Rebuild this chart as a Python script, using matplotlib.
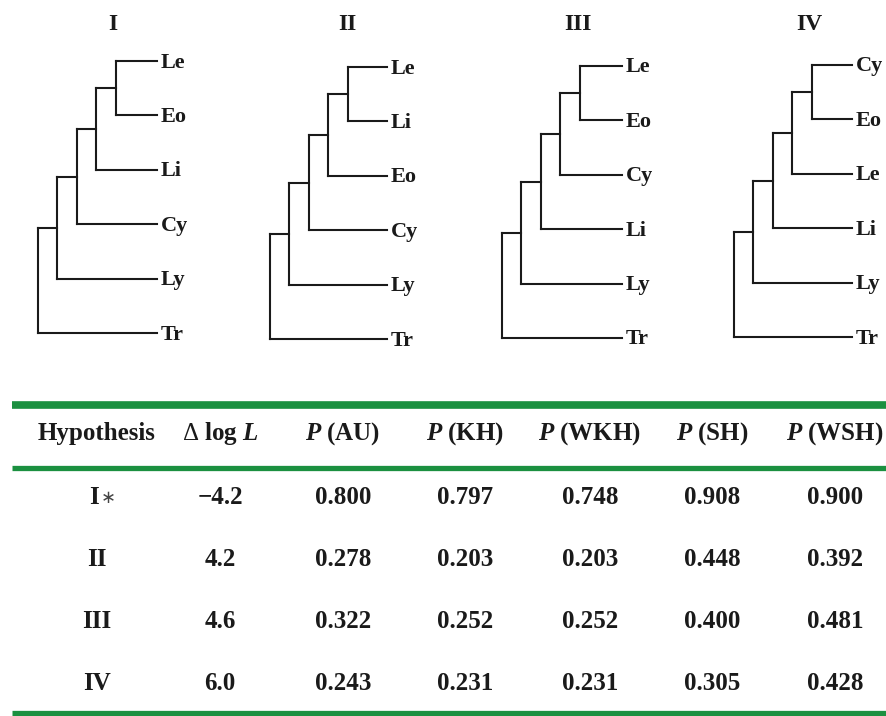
"""Tree hypotheses with AU test table"""
import matplotlib
matplotlib.use("Agg")
import matplotlib.pyplot as plt
import numpy as np

# ---- data ----
tree_names = ['I', 'II', 'III', 'IV']
topologies = [
    ((((('Le', 'Eo'), 'Li'), 'Cy'), 'Ly'), 'Tr'),
    ((((('Le', 'Li'), 'Eo'), 'Cy'), 'Ly'), 'Tr'),
    ((((('Le', 'Eo'), 'Cy'), 'Li'), 'Ly'), 'Tr'),
    ((((('Cy', 'Eo'), 'Le'), 'Li'), 'Ly'), 'Tr'),
]

col_headers = ['Hypothesis', r'$\mathsf{\Delta}$ log $L$', r'$P$ (AU)', r'$P$ (KH)',
               r'$P$ (WKH)', r'$P$ (SH)', r'$P$ (WSH)']
row_labels = ['I\u2217', 'II', 'III', 'IV']
delta_logL = ['\u22124.2', '4.2', '4.6', '6.0']
p_au = ['0.800', '0.278', '0.322', '0.243']
p_kh = ['0.797', '0.203', '0.252', '0.231']
p_wkh = ['0.748', '0.203', '0.252', '0.231']
p_sh = ['0.908', '0.448', '0.400', '0.305']
p_wsh = ['0.900', '0.392', '0.481', '0.428']

# ---- layout (pixels) ----
tree_root_x = [38, 270, 502, 734]
tree_top_y = [61, 67, 66, 65]
tree_tip_x = [157, 387, 622, 852]
title_x = [113, 347, 578, 809]
tip_gap = 54.4
node_step = 19.5

col_x = [97, 220, 343, 465, 590, 712, 835]
header_y = 440
row_y = [504, 566, 628, 690]
green = '#1b9040'
ink = '#1a1a1a'

plt.rcParams['font.family'] = ['Liberation Serif', 'DejaVu Serif']
plt.rcParams['font.weight'] = 'bold'
plt.rcParams['mathtext.fontset'] = 'custom'
plt.rcParams['mathtext.rm'] = 'Liberation Serif:bold'
plt.rcParams['mathtext.it'] = 'Liberation Serif:italic:bold'
plt.rcParams['mathtext.bf'] = 'Liberation Serif:bold'
plt.rcParams['mathtext.sf'] = 'Liberation Serif:weight=normal'


def flatten(clade):
    if isinstance(clade, str):
        return [clade]
    out = []
    for c in clade:
        out += flatten(c)
    return out


def draw_clade(ax, clade, depth, root_x, tip_x, tip_y):
    node_x = root_x + depth * node_step
    if isinstance(clade, str):
        return tip_y[clade], tip_x
    kids = [draw_clade(ax, c, depth + 1, root_x, tip_x, tip_y) for c in clade]
    ys = [k[0] for k in kids]
    ax.plot([node_x, node_x], [min(ys), max(ys)], color=ink, lw=1.5,
            solid_capstyle='projecting')
    for ky, kx in kids:
        ax.plot([node_x, kx], [ky, ky], color=ink, lw=1.5,
                solid_capstyle='projecting')
    return float(np.mean(ys)), node_x


def main():
    fig = plt.figure(figsize=(8.87, 7.16), dpi=100)
    ax = fig.add_axes([0, 0, 1, 1])
    ax.set_xlim(0, 887)
    ax.set_ylim(716, 0)
    ax.axis('off')

    # trees
    for i, topo in enumerate(topologies):
        tips = flatten(topo)
        tip_y = {t: tree_top_y[i] + k * tip_gap for k, t in enumerate(tips)}
        draw_clade(ax, topo, 0, tree_root_x[i], tree_tip_x[i], tip_y)
        for t in tips:
            ax.text(tree_tip_x[i] + 4, tip_y[t] + 6.5, t, fontsize=16,
                    ha='left', va='baseline', color=ink)
        ax.text(title_x[i], 24, tree_names[i], fontsize=17, ha='center',
                va='center', color=ink)

    # table rules
    ax.plot([12, 887], [405, 405], color=green, lw=5.5, solid_capstyle='butt')
    ax.plot([12, 887], [468, 468], color=green, lw=3.8, solid_capstyle='butt')
    ax.plot([12, 887], [713, 713], color=green, lw=3.8, solid_capstyle='butt')

    for x, h in zip(col_x, col_headers):
        ax.text(x, header_y, h, fontsize=18, ha='center', va='baseline',
                color=ink)

    columns = [row_labels, delta_logL, p_au, p_kh, p_wkh, p_sh, p_wsh]
    for x, col in zip(col_x, columns):
        for y, v in zip(row_y, col):
            if v.endswith('\u2217'):
                # light, small asterisk after the label
                ax.text(x + 2, y, v[:-1], fontsize=18, ha='right',
                        va='baseline', color=ink)
                ax.text(x + 4, y - 1, '\u2217', fontsize=13, ha='left',
                        va='baseline', color='#444444', fontweight='normal',
                        family='DejaVu Sans')
            else:
                ax.text(x, y, v, fontsize=18, ha='center', va='baseline',
                        color=ink)

    fig.savefig('out.png', dpi=100)
    plt.close(fig)


if __name__ == "__main__":
    main()
